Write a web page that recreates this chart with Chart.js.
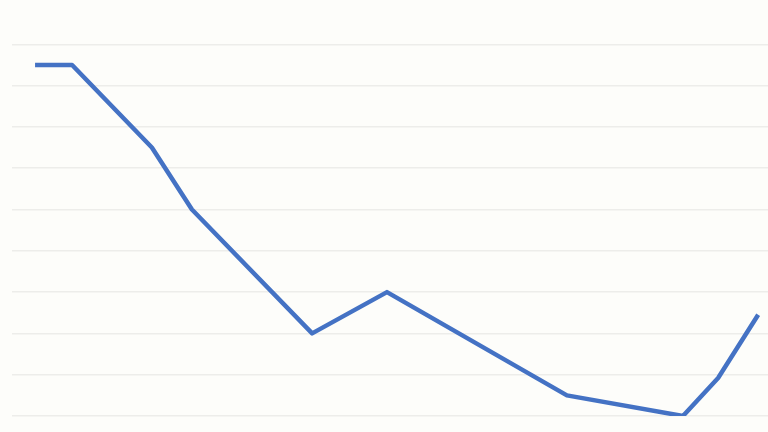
<!DOCTYPE html>
<html>
<head>
<meta charset="utf-8">
<script src="https://cdn.jsdelivr.net/npm/chart.js@4"></script>
<style>
html,body{margin:0;padding:0;background:#fdfdfa;}
#wrap{width:768px;height:432px;}
</style>
</head>
<body>
<div id="wrap"><canvas id="c" width="768" height="432"></canvas></div>
<script>
const xValues = [0.61, 1.59, 3.70, 4.76, 7.94, 9.92, 14.68, 17.75, 18.68, 19.74];
const yValues = [8.5, 8.5, 6.5, 5.0, 2.0, 3.0, 0.5, 0.0, 0.92, 2.45];
const yTicks = [0,1,2,3,4,5,6,7,8,9];
const yMax = 10;

const points = xValues.map((x, i) => ({x: x, y: yValues[i]}));

new Chart(document.getElementById('c'), {
  type: 'line',
  data: {
    datasets: [{
      data: points,
      borderColor: '#4472c4',
      borderWidth: 4.5,
      pointRadius: 0,
      tension: 0,
      borderJoinStyle: 'round',
      fill: false
    }]
  },
  options: {
    responsive: false,
    animation: false,
    layout: {padding: {left: 12, right: 0, top: 3, bottom: 16}},
    plugins: {legend: {display: false}, tooltip: {enabled: false}},
    scales: {
      x: {
        type: 'linear', min: 0, max: 20,
        display: false
      },
      y: {
        min: yTicks[0], max: yMax,
        afterBuildTicks: (axis) => { axis.ticks = yTicks.map(v => ({value: v})); },
        grid: {color: '#ededea', lineWidth: 1.5, drawTicks: false},
        border: {display: false},
        ticks: {display: false}
      }
    }
  }
});
</script>
</body>
</html>
